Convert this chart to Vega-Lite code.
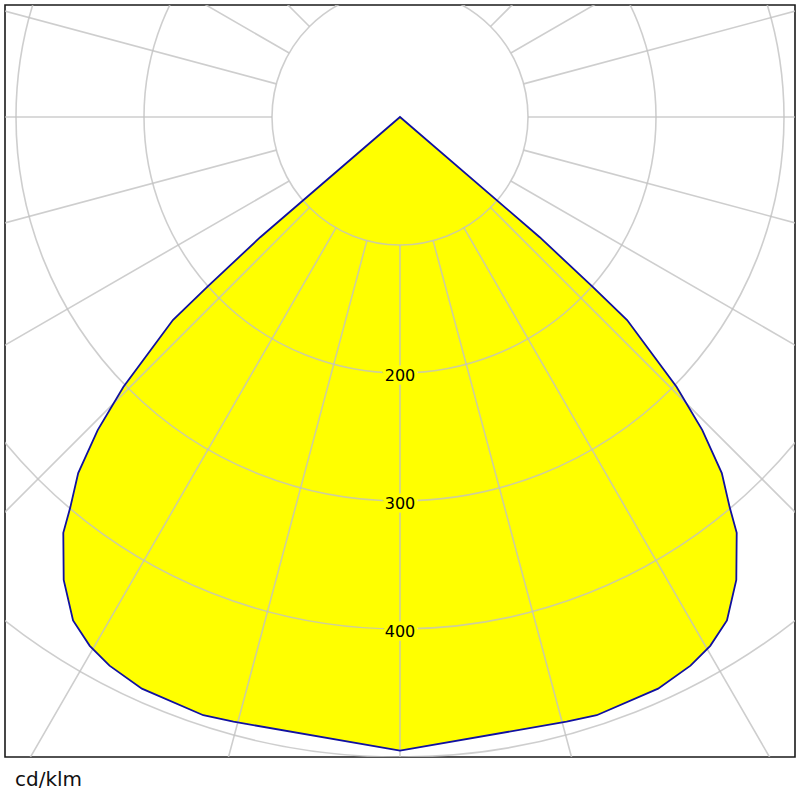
{
  "$schema": "https://vega.github.io/schema/vega-lite/v6.json",
  "width": 790,
  "height": 752,
  "padding": 5,
  "background": "white",
  "title": {
    "text": "cd/klm",
    "orient": "bottom",
    "anchor": "start",
    "offset": 13,
    "dx": 10,
    "fontSize": 20,
    "font": "DejaVu Sans",
    "fontWeight": "normal",
    "color": "#111111"
  },
  "datasets": {
    "curve": [
      {"i": 0, "angle": -90, "cd": 0},
      {"i": 1, "angle": -49.3, "cd": 144},
      {"i": 2, "angle": -48.6, "cd": 201},
      {"i": 3, "angle": -48.2, "cd": 238},
      {"i": 4, "angle": -45.7, "cd": 302},
      {"i": 5, "angle": -44.0, "cd": 340},
      {"i": 6, "angle": -42.1, "cd": 375},
      {"i": 7, "angle": -40.2, "cd": 399},
      {"i": 8, "angle": -39.0, "cd": 418},
      {"i": 9, "angle": -36.0, "cd": 447},
      {"i": 10, "angle": -33.0, "cd": 469},
      {"i": 11, "angle": -30.4, "cd": 479},
      {"i": 12, "angle": -27.9, "cd": 485},
      {"i": 13, "angle": -24.3, "cd": 490},
      {"i": 14, "angle": -18.2, "cd": 492},
      {"i": 15, "angle": -15.4, "cd": 490},
      {"i": 16, "angle": 0, "cd": 495},
      {"i": 17, "angle": 15.4, "cd": 490},
      {"i": 18, "angle": 18.2, "cd": 492},
      {"i": 19, "angle": 24.3, "cd": 490},
      {"i": 20, "angle": 27.9, "cd": 485},
      {"i": 21, "angle": 30.4, "cd": 479},
      {"i": 22, "angle": 33.0, "cd": 469},
      {"i": 23, "angle": 36.0, "cd": 447},
      {"i": 24, "angle": 39.0, "cd": 418},
      {"i": 25, "angle": 40.2, "cd": 399},
      {"i": 26, "angle": 42.1, "cd": 375},
      {"i": 27, "angle": 44.0, "cd": 340},
      {"i": 28, "angle": 45.7, "cd": 302},
      {"i": 29, "angle": 48.2, "cd": 238},
      {"i": 30, "angle": 48.6, "cd": 201},
      {"i": 31, "angle": 49.3, "cd": 144},
      {"i": 32, "angle": 90, "cd": 0}
    ],
    "rings": [
      {"r": 100}, {"r": 200}, {"r": 300}, {"r": 400}, {"r": 500}, {"r": 600}
    ],
    "spokes": [
      {"angle": 0}, {"angle": 15}, {"angle": 30}, {"angle": 45},
      {"angle": 60}, {"angle": 75}, {"angle": 90}, {"angle": 105},
      {"angle": 120}, {"angle": 135}, {"angle": 150}, {"angle": 165},
      {"angle": 180}, {"angle": 195}, {"angle": 210}, {"angle": 225},
      {"angle": 240}, {"angle": 255}, {"angle": 270}, {"angle": 285},
      {"angle": 300}, {"angle": 315}, {"angle": 330}, {"angle": 345}
    ],
    "labels": [
      {"label": "200", "r": 200},
      {"label": "300", "r": 300},
      {"label": "400", "r": 400}
    ]
  },
  "layer": [
    {
      "data": {"name": "curve"},
      "transform": [
        {"calculate": "datum.cd * sin(datum.angle * PI / 180)", "as": "x"},
        {"calculate": "-datum.cd * cos(datum.angle * PI / 180)", "as": "y"}
      ],
      "mark": {"type": "line", "interpolate": "linear-closed", "fill": "#ffff00", "strokeOpacity": 0},
      "encoding": {
        "x": {"field": "x", "type": "quantitative", "scale": {"domain": [-308.6, 308.6], "nice": false, "zero": false}, "axis": null},
        "y": {"field": "y", "type": "quantitative", "scale": {"domain": [-500, 87.5], "nice": false, "zero": false}, "axis": null},
        "order": {"field": "i"}
      }
    },
    {
      "data": {"name": "rings"},
      "mark": {"type": "arc", "filled": false, "stroke": "#c2c2c2", "strokeOpacity": 0.8, "strokeWidth": 1.6, "theta": 0, "theta2": 6.2832, "clip": true},
      "encoding": {
        "x": {"datum": 0, "type": "quantitative"},
        "y": {"datum": 0, "type": "quantitative"},
        "radius": {"field": "r", "type": "quantitative", "stack": null, "scale": {"type": "linear", "domain": [0, 500], "range": [0, 640], "zero": true}}
      }
    },
    {
      "data": {"name": "spokes"},
      "mark": {"type": "arc", "filled": false, "stroke": "#c2c2c2", "strokeOpacity": 0.8, "strokeWidth": 1.6, "clip": true},
      "encoding": {
        "x": {"datum": 0, "type": "quantitative"},
        "y": {"datum": 0, "type": "quantitative"},
        "theta": {"field": "angle", "type": "quantitative", "stack": null, "scale": {"domain": [0, 360], "range": [0, 6.283185307179586]}},
        "theta2": {"field": "angle"},
        "radius": {"datum": 700, "type": "quantitative"},
        "radius2": {"datum": 100}
      }
    },
    {
      "data": {"name": "curve"},
      "transform": [
        {"calculate": "datum.cd * sin(datum.angle * PI / 180)", "as": "x"},
        {"calculate": "-datum.cd * cos(datum.angle * PI / 180)", "as": "y"}
      ],
      "mark": {"type": "line", "interpolate": "linear-closed", "stroke": "#1010a0", "strokeWidth": 1.8},
      "encoding": {
        "x": {"field": "x", "type": "quantitative"},
        "y": {"field": "y", "type": "quantitative"},
        "order": {"field": "i"}
      }
    },
    {
      "data": {"name": "labels"},
      "transform": [{"calculate": "-datum.r", "as": "y"}],
      "mark": {"type": "text", "font": "DejaVu Sans", "fontSize": 16, "baseline": "middle", "dy": 3, "stroke": "#ffff00", "strokeWidth": 7, "strokeJoin": "round", "fill": "#ffff00"},
      "encoding": {
        "x": {"datum": 0, "type": "quantitative"},
        "y": {"field": "y", "type": "quantitative"},
        "text": {"field": "label"}
      }
    },
    {
      "data": {"name": "labels"},
      "transform": [{"calculate": "-datum.r", "as": "y"}],
      "mark": {"type": "text", "font": "DejaVu Sans", "fontSize": 16, "baseline": "middle", "dy": 3, "color": "#000000"},
      "encoding": {
        "x": {"datum": 0, "type": "quantitative"},
        "y": {"field": "y", "type": "quantitative"},
        "text": {"field": "label"}
      }
    }
  ],
  "config": {
    "view": {"stroke": "#1a1a1a", "strokeWidth": 1.6}
  }
}
